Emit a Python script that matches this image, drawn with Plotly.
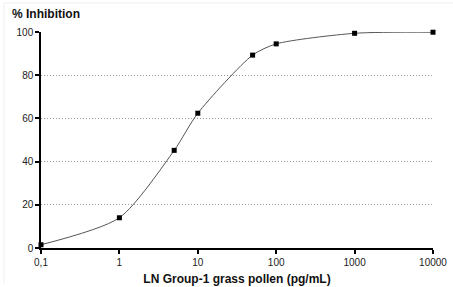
import plotly.graph_objects as go

concentration = [0.1, 1, 5, 10, 50, 100, 1000, 10000]
inhibition = [1.5, 14.0, 45.2, 62.4, 89.3, 94.5, 99.4, 99.9]
x_tick_vals = [0.1, 1, 10, 100, 1000, 10000]
x_tick_text = ["0,1", "1", "10", "100", "1000", "10000"]
y_tick_vals = [0, 20, 40, 60, 80, 100]

W, H = 453, 287
L, R, T, B = 41, 20, 32, 38.5
pw, ph = W - L - R, H - T - B


def px(xp):
    return (xp - L) / pw


def py(yp):
    return (H - B - yp) / ph


fig = go.Figure()
fig.add_trace(go.Scatter(
    x=concentration, y=inhibition, mode="lines+markers",
    line=dict(color="#555555", width=1, shape="spline", smoothing=0.7),
    marker=dict(symbol="square", size=5, color="black"),
    cliponaxis=False, showlegend=False,
))

fig.update_layout(
    width=W, height=H,
    margin=dict(l=L, r=R, t=T, b=B, autoexpand=False),
    paper_bgcolor="white", plot_bgcolor="white",
    font=dict(family="Liberation Sans, Arial, sans-serif", size=10, color="#222"),
    xaxis=dict(
        type="log", range=[-1, 4],
        tickvals=x_tick_vals, ticktext=x_tick_text,
        showgrid=False, zeroline=False,
        showline=True, linecolor="black", linewidth=1.5,
        ticks="outside", ticklen=4, tickcolor="black", tickwidth=1.5,
        title=dict(text="<b>LN Group-1 grass pollen (pg/mL)</b>",
                   font=dict(size=12, color="#111"), standoff=8),
    ),
    yaxis=dict(
        range=[0, 100], tickvals=y_tick_vals,
        showgrid=True, gridcolor="#999999", gridwidth=1, griddash="1px,2px",
        zeroline=False,
        showline=True, linecolor="black", linewidth=1.5,
        ticks="outside", ticklen=4, tickcolor="black", tickwidth=1.5,
    ),
    annotations=[dict(
        text="<b>% Inhibition</b>", xref="paper", yref="paper",
        x=px(10), y=py(5), xanchor="left", yanchor="top",
        showarrow=False, font=dict(size=12, color="#111"),
    )],
    shapes=[
        dict(type="line", xref="paper", yref="paper", x0=px(4), x1=px(453),
             y0=py(3), y1=py(3), line=dict(color="#eeeeee", width=1)),
        dict(type="line", xref="paper", yref="paper", x0=px(4), x1=px(4),
             y0=py(3), y1=py(284), line=dict(color="#eeeeee", width=1)),
    ],
)
fig.write_html(
    "out.html",
    config={"displayModeBar": False},
    post_script="document.body.style.margin='0';document.body.style.overflow='hidden';",
)
